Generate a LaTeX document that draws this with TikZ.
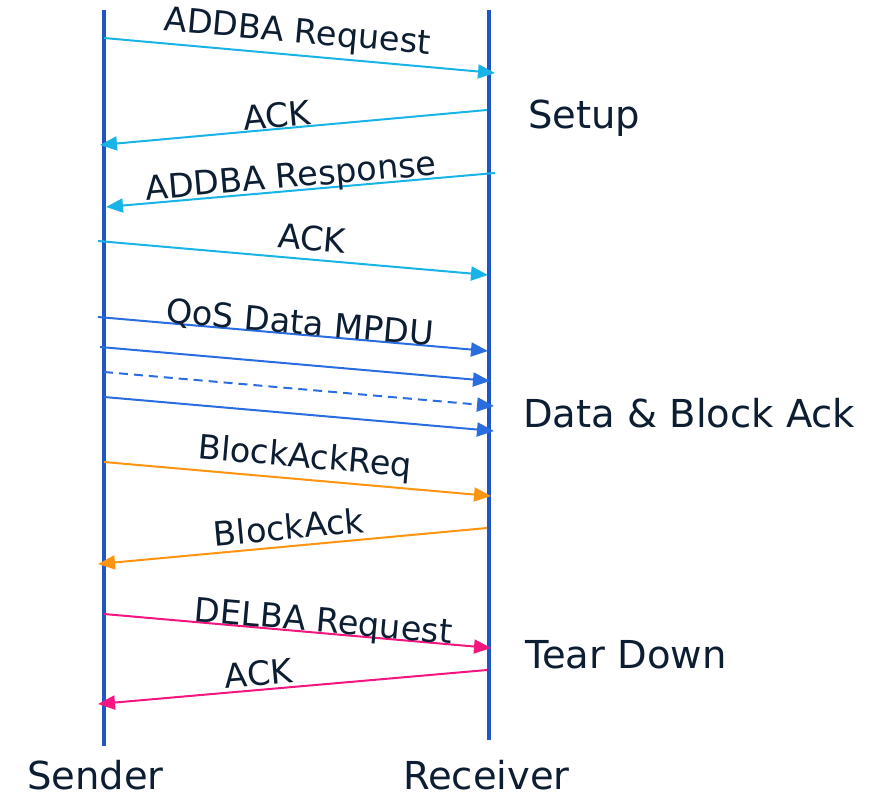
\documentclass[tikz,border=0pt]{standalone}
\usepackage{fontspec}
\setmainfont{DejaVu Sans}
\usetikzlibrary{arrows.meta}
\definecolor{txt}{HTML}{0D1E33}
\definecolor{life}{HTML}{1F56C6}
\definecolor{cyanmsg}{HTML}{18B4E8}
\definecolor{bluemsg}{HTML}{2A6DE0}
\definecolor{orangemsg}{HTML}{FF9410}
\definecolor{pinkmsg}{HTML}{F5157F}
\tikzset{
  lifeline/.style={draw=life, line width=4pt},
  msg/.style={line width=2pt, -{Triangle[length=17pt,width=14pt]}},
  msglbl/.style={text=txt, font=\fontsize{33.5}{40}\selectfont, anchor=base, inner sep=0pt},
  phase/.style={text=txt, font=\fontsize{38.5}{46}\selectfont, anchor=base west, inner sep=0pt},
  actor/.style={text=txt, font=\fontsize{38.5}{46}\selectfont, anchor=base west, inner sep=0pt},
}
\begin{document}
\begin{tikzpicture}[x=1pt,y=-1pt]
\useasboundingbox (0,0) rectangle (892,794);
% lifelines
\coordinate (stop) at (104,10);
\coordinate (sbot) at (104,746);
\coordinate (rtop) at (489,10);
\coordinate (rbot) at (489,740);
\draw[lifeline] (stop) -- (sbot);
\draw[lifeline] (rtop) -- (rbot);
% endpoints
\coordinate (a1s) at (104,38);  \coordinate (a1e) at (495,73);
\coordinate (a2s) at (487,110); \coordinate (a2e) at (100,145);
\coordinate (a3s) at (495,173); \coordinate (a3e) at (106,207);
\coordinate (a4s) at (98,241);  \coordinate (a4e) at (488,275);
\coordinate (a5s) at (98,317);  \coordinate (a5e) at (488,351);
\coordinate (a6s) at (100,347); \coordinate (a6e) at (490,381);
\coordinate (a7s) at (104,372); \coordinate (a7e) at (494,406);
\coordinate (a8s) at (104,397); \coordinate (a8e) at (494,431);
\coordinate (a9s) at (104,462); \coordinate (a9e) at (491,496);
\coordinate (a10s) at (487,528); \coordinate (a10e) at (98,564);
\coordinate (a11s) at (104,614); \coordinate (a11e) at (491,648);
\coordinate (a12s) at (487,670); \coordinate (a12e) at (98,704);
% messages
\draw[msg, cyanmsg] (a1s) -- (a1e);
\draw[msg, cyanmsg] (a2s) -- (a2e);
\draw[msg, cyanmsg] (a3s) -- (a3e);
\draw[msg, cyanmsg] (a4s) -- (a4e);
\draw[msg, bluemsg] (a5s) -- (a5e);
\draw[msg, bluemsg] (a6s) -- (a6e);
\draw[msg, bluemsg, dash pattern=on 9pt off 6pt] (a7s) -- (a7e);
\draw[msg, bluemsg] (a8s) -- (a8e);
\draw[msg, orangemsg] (a9s) -- (a9e);
\draw[msg, orangemsg] (a10s) -- (a10e);
\draw[msg, pinkmsg] (a11s) -- (a11e);
\draw[msg, pinkmsg] (a12s) -- (a12e);
% message labels
\node[msglbl, rotate=-5.1] (l1) at (296.5,42.5) {ADDBA Request};
\node[msglbl, rotate=5.2] (l2) at (278,127.5) {ACK};
\node[msglbl, rotate=5.0] (l3) at (291.7,187.5) {ADDBA Response};
\node[msglbl, rotate=-5.0] (l4) at (311,250.8) {ACK};
\node[msglbl, rotate=-5.0] (l5) at (299,334) {QoS Data MPDU};
\node[msglbl, rotate=-5.0] (l9) at (304,467.7) {BlockAckReq};
\node[msglbl, rotate=5.3] (l10) at (290,539.2) {BlockAck};
\node[msglbl, rotate=-5.0] (l11) at (322.5,632.5) {DELBA Request};
\node[msglbl, rotate=5.0] (l12) at (259.5,685.8) {ACK};
% phase labels
\node[phase] (setup) at (528,129) {Setup};
\node[phase] (data) at (523,428) {Data \& Block Ack};
\node[phase] (tear) at (525,668) {Tear Down};
% actors
\node[actor] (sender) at (27,789) {Sender};
\node[actor] (receiver) at (403,789) {Receiver};
\end{tikzpicture}
\end{document}
